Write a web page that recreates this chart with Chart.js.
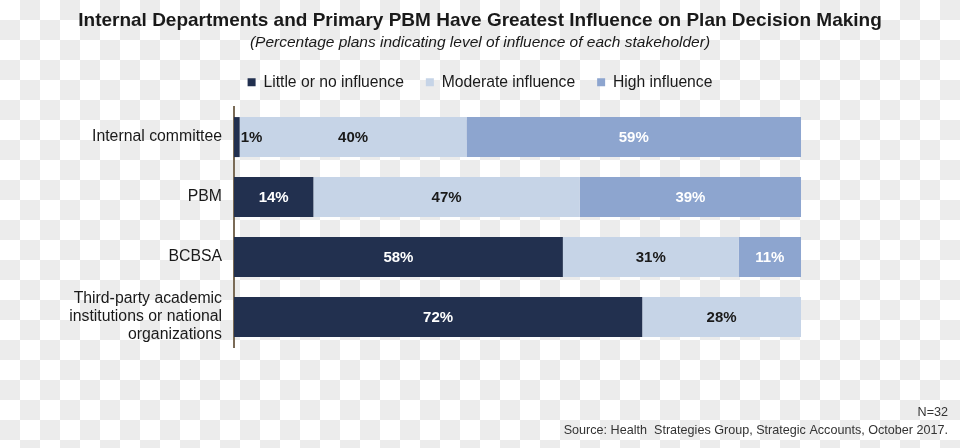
<!DOCTYPE html>
<html>
<head>
<meta charset="utf-8">
<script src="https://cdn.jsdelivr.net/npm/chart.js@4"></script>
<style>
  body {
    margin: 0;
    background-color: #fff;
    background-image: conic-gradient(#ececec 25%, #fff 0 50%, #ececec 0 75%, #fff 0);
    background-size: 40px 40px;
  }
</style>
</head>
<body>
<canvas id="myChart" width="960" height="448"></canvas>
<script>
let labels = ['Internal committee', 'PBM', 'BCBSA', ['Third-party academic', 'institutions or national', 'organizations']];
let seriesNames = ['Little or no influence', 'Moderate influence', 'High influence'];
let littleValues = [1, 14, 58, 72];
let moderateValues = [40, 47, 31, 28];
let highValues = [59, 39, 11, 0];
let colorHex = ['#22304f', '#c6d4e7', '#8da5cf'];
let labelColors = ['#ffffff', '#1a1a1a', '#ffffff'];

let ctx = document.getElementById('myChart').getContext('2d');
let font = "'Liberation Sans', Arial, sans-serif";

// value labels inside the bars
let barLabels = {
  id: 'barLabels',
  afterDatasetsDraw(chart) {
    let c = chart.ctx;
    c.save();
    c.font = 'bold 15px ' + font;
    c.textBaseline = 'middle';
    chart.data.datasets.forEach((ds, i) => {
      chart.getDatasetMeta(i).data.forEach((bar, j) => {
        let v = ds.data[j];
        if (!v) return;
        let w = Math.abs(bar.x - bar.base);
        if (w < 20) {
          c.fillStyle = '#1a1a1a';
          c.textAlign = 'left';
          c.fillText(v + '%', bar.x + 1, bar.y + 1);
        } else {
          c.fillStyle = labelColors[i];
          c.textAlign = 'center';
          c.fillText(v + '%', (bar.x + bar.base) / 2, bar.y + 1);
        }
      });
    });
    c.restore();
  }
};

// source note at the bottom right
let footNote = {
  id: 'footNote',
  afterDraw(chart) {
    let c = chart.ctx;
    c.save();
    c.font = '12.6px ' + font;
    c.fillStyle = '#333';
    c.textAlign = 'right';
    c.textBaseline = 'middle';
    c.fillText('N=32', 948, 413);
    c.fillText('Source: Health  Strategies Group, Strategic Accounts, October 2017.', 948, 431);
    c.restore();
  }
};

let myChart = new Chart(ctx, {
  type: 'bar',
  data: {
    labels: labels,
    datasets: [
      { label: seriesNames[0], data: littleValues, backgroundColor: colorHex[0] },
      { label: seriesNames[1], data: moderateValues, backgroundColor: colorHex[1] },
      { label: seriesNames[2], data: highValues, backgroundColor: colorHex[2] }
    ]
  },
  options: {
    indexAxis: 'y',
    responsive: false,
    animation: false,
    layout: {
      padding: { left: 0, right: 0, bottom: 101, top: 0 }
    },
    datasets: {
      bar: {
        barPercentage: 0.667,
        categoryPercentage: 1,
        borderWidth: 0
      }
    },
    scales: {
      x: {
        stacked: true,
        position: 'top',
        min: 0,
        // 100% ends at x=801, the rest of the width stays empty
        max: 128.04,
        afterFit: (scale) => { scale.height = 7; },
        grid: { display: false, drawTicks: false },
        border: { display: false },
        ticks: { display: false }
      },
      y: {
        stacked: true,
        afterFit: (scale) => { scale.width = 234; },
        grid: { display: false, drawTicks: false },
        border: { display: true, color: '#7a6b57', width: 2 },
        ticks: {
          color: '#1a1a1a',
          padding: 12,
          font: { family: font, size: 15.8, lineHeight: 1.14 }
        }
      }
    },
    plugins: {
      title: {
        display: true,
        text: 'Internal Departments and Primary PBM Have Greatest Influence on Plan Decision Making',
        color: '#1a1a1a',
        font: { family: font, size: 19, weight: 'bold' },
        padding: { top: 9, bottom: 2 }
      },
      subtitle: {
        display: true,
        text: '(Percentage plans indicating level of influence of each stakeholder)',
        color: '#1a1a1a',
        font: { family: font, size: 15.5, style: 'italic' },
        padding: { top: 0, bottom: 0 }
      },
      legend: {
        position: 'top',
        labels: {
          boxWidth: 8,
          boxHeight: 8,
          padding: 22,
          color: '#1a1a1a',
          font: { family: font, size: 15.7 }
        }
      },
      tooltip: { enabled: false }
    }
  },
  plugins: [barLabels, footNote]
});
</script>
</body>
</html>
